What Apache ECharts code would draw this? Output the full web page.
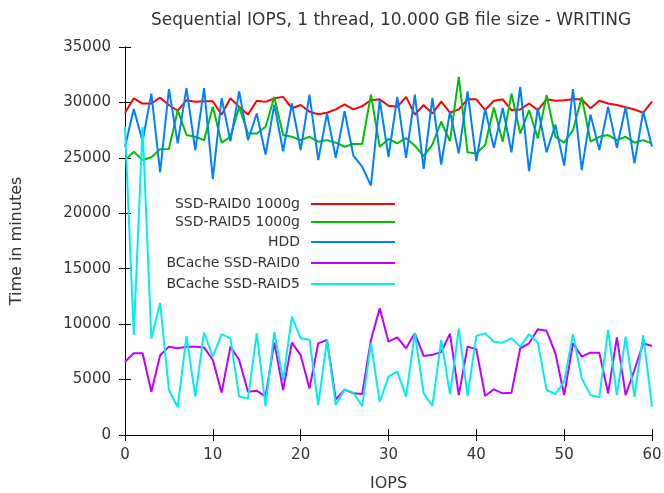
<!DOCTYPE html>
<html>
<head>
<meta charset="utf-8">
<script src="https://cdn.jsdelivr.net/npm/echarts@6/dist/echarts.min.js"></script>
<style>
  html, body { margin: 0; padding: 0; background: #fff; }
  #chart { width: 664px; height: 493px; }
</style>
</head>
<body>
<div id="chart"></div>
<script>
// Sample positions 0..60 along the x axis
const positions = Array.from({ length: 61 }, (_, i) => i);

const xTicks = [0, 10, 20, 30, 40, 50, 60];
const yTicks = [0, 5000, 10000, 15000, 20000, 25000, 30000, 35000];

const seriesNames = ['SSD-RAID0 1000g', 'SSD-RAID5 1000g', 'HDD', 'BCache SSD-RAID0', 'BCache SSD-RAID5'];

const ssdRaid0 = [29070, 30370, 29900, 29900, 30430, 29770, 29250, 30200, 30070, 30100,
  30100, 28900, 30370, 29600, 28900, 30150, 30050, 30370, 30500, 29470,
  29770, 29170, 28930, 29070, 29370, 29830, 29370, 29670, 30200, 30280,
  29700, 29600, 30500, 28900, 29770, 29000, 30070, 29070, 29370, 30280,
  30280, 29300, 30150, 30280, 29300, 29370, 29900, 29300, 30280, 30150,
  30200, 30280, 30280, 29470, 30150, 29900, 29770, 29570, 29370, 29070, 30070];

const ssdRaid5 = [24800, 25550, 24800, 25050, 25770, 25800, 29300, 27060, 26900, 26600,
  29600, 26370, 26900, 29600, 27200, 27200, 27800, 30500, 27060, 26900,
  26600, 26900, 26460, 26600, 26370, 26000, 26250, 26250, 30700, 26000,
  26700, 26300, 26780, 26100, 25150, 26200, 28260, 26500, 32300, 25500,
  25400, 26160, 29550, 26460, 30800, 27200, 29300, 26760, 30670, 26900,
  26370, 27500, 30500, 26460, 26900, 27060, 26600, 26900, 26370, 26600, 26300];

const hdd = [26000, 29400, 26500, 30800, 23700, 31200, 26300, 31300, 25700, 31300,
  23100, 30400, 26500, 31000, 26600, 29000, 25300, 29800, 25600, 29900,
  25700, 30700, 24800, 29000, 25000, 29200, 25200, 24200, 22500, 30200,
  25100, 30500, 25000, 30700, 24000, 30400, 24400, 29200, 25400, 31000,
  24700, 29400, 25900, 29500, 25500, 31400, 23800, 29500, 25500, 28000,
  24300, 31200, 23900, 28900, 25700, 29600, 25900, 29600, 24500, 29200, 26000];

const bcacheRaid0 = [6610, 7370, 7370, 3910, 7200, 7970, 7820, 7970, 7970, 7900,
  6770, 3820, 7970, 6770, 3910, 4000, 3460, 8330, 4060, 8330,
  7200, 4200, 8270, 8570, 3220, 4100, 3760, 3700, 8570, 11430,
  8420, 8800, 7820, 9170, 7130, 7230, 7480, 9140, 3600, 7970,
  7730, 3520, 4120, 3760, 3820, 7820, 8270, 9530, 9400, 7370,
  3600, 8270, 7070, 7430, 7430, 3760, 8810, 3600, 5860, 8270, 8030];

const bcacheRaid5 = [27800, 9000, 27800, 8700, 11900, 4060, 2500, 8930, 3460, 9230,
  7070, 9100, 8720, 3460, 3300, 9170, 2600, 9300, 4960, 10670,
  8720, 8600, 2700, 8570, 2700, 4120, 3820, 2600, 8270, 3000,
  5260, 5710, 3460, 9200, 3760, 2650, 8570, 3680, 9600, 3500,
  8930, 9170, 8420, 8330, 8720, 7970, 9100, 8330, 4060, 3700,
  4810, 9100, 5110, 3600, 3400, 9470, 3600, 8870, 3460, 9000, 2550];

const seriesValues = [ssdRaid0, ssdRaid5, hdd, bcacheRaid0, bcacheRaid5];
const seriesColors = ['#ff0000', '#00c000', '#0080ff', '#c000ff', '#00eeee'];

const FONT = 'DejaVu Sans';
const TEXT = '#333333';

const chart = echarts.init(document.getElementById('chart'), null, { renderer: 'canvas' });

const frameAxis = {
  type: 'value',
  axisLine: { show: true, lineStyle: { color: '#000', width: 1 } },
  axisTick: { show: true, inside: true, length: 6, lineStyle: { color: '#000' } },
  splitLine: { show: false }
};

const xBase = Object.assign({}, frameAxis, { min: xTicks[0], max: xTicks[xTicks.length - 1], interval: xTicks[1] - xTicks[0] });
const yBase = Object.assign({}, frameAxis, { min: yTicks[0], max: yTicks[yTicks.length - 1], interval: yTicks[1] - yTicks[0] });

// One small legend per series so each line sample sits right of its text
const legendTops = [197, 215, 235, 256, 277];
const legends = seriesNames.map((name, i) => ({
  data: [name],
  top: legendTops[i],
  right: 269,
  align: 'right',
  orient: 'vertical',
  icon: 'rect',
  itemWidth: 84,
  itemHeight: 2,
  padding: 0,
  selectedMode: false,
  textStyle: { fontFamily: FONT, fontSize: 14, color: TEXT, padding: [0, 6, 0, 0] }
}));

chart.setOption({
  animation: false,
  backgroundColor: '#ffffff',
  // title centred over the plotting area rather than the whole canvas
  title: {
    text: 'Sequential IOPS, 1 thread, 10.000 GB file size - WRITING',
    left: 146,
    top: 7,
    textStyle: { fontFamily: FONT, fontSize: 17, fontWeight: 'normal', color: TEXT }
  },
  legend: legends,
  grid: { left: 125, right: 12, top: 47, bottom: 58, containLabel: false, outerBoundsMode: 'none' },
  xAxis: [
    Object.assign({}, xBase, {
      position: 'bottom',
      name: 'IOPS',
      nameLocation: 'middle',
      nameGap: 41,
      nameTextStyle: { fontFamily: FONT, fontSize: 16, color: TEXT },
      axisLabel: { margin: 13, fontFamily: FONT, fontSize: 15, color: TEXT, formatter: v => String(v) }
    }),
    Object.assign({}, xBase, { position: 'top', axisLabel: { show: false } })
  ],
  yAxis: [
    Object.assign({}, yBase, {
      position: 'left',
      name: 'Time in minutes',
      nameLocation: 'middle',
      nameGap: 100,
      nameTextStyle: { fontFamily: FONT, fontSize: 16, color: TEXT },
      axisLabel: { margin: 14, fontFamily: FONT, fontSize: 15, color: TEXT, formatter: v => String(v) }
    }),
    Object.assign({}, yBase, { position: 'right', axisLabel: { show: false } })
  ],
  series: seriesNames.map((name, i) => ({
    name: name,
    type: 'line',
    data: positions.map((x, k) => [x, seriesValues[i][k]]),
    showSymbol: false,
    symbol: 'none',
    color: seriesColors[i],
    lineStyle: { color: seriesColors[i], width: 2 },
    itemStyle: { color: seriesColors[i] },
    emphasis: { disabled: true }
  }))
});
</script>
</body>
</html>
